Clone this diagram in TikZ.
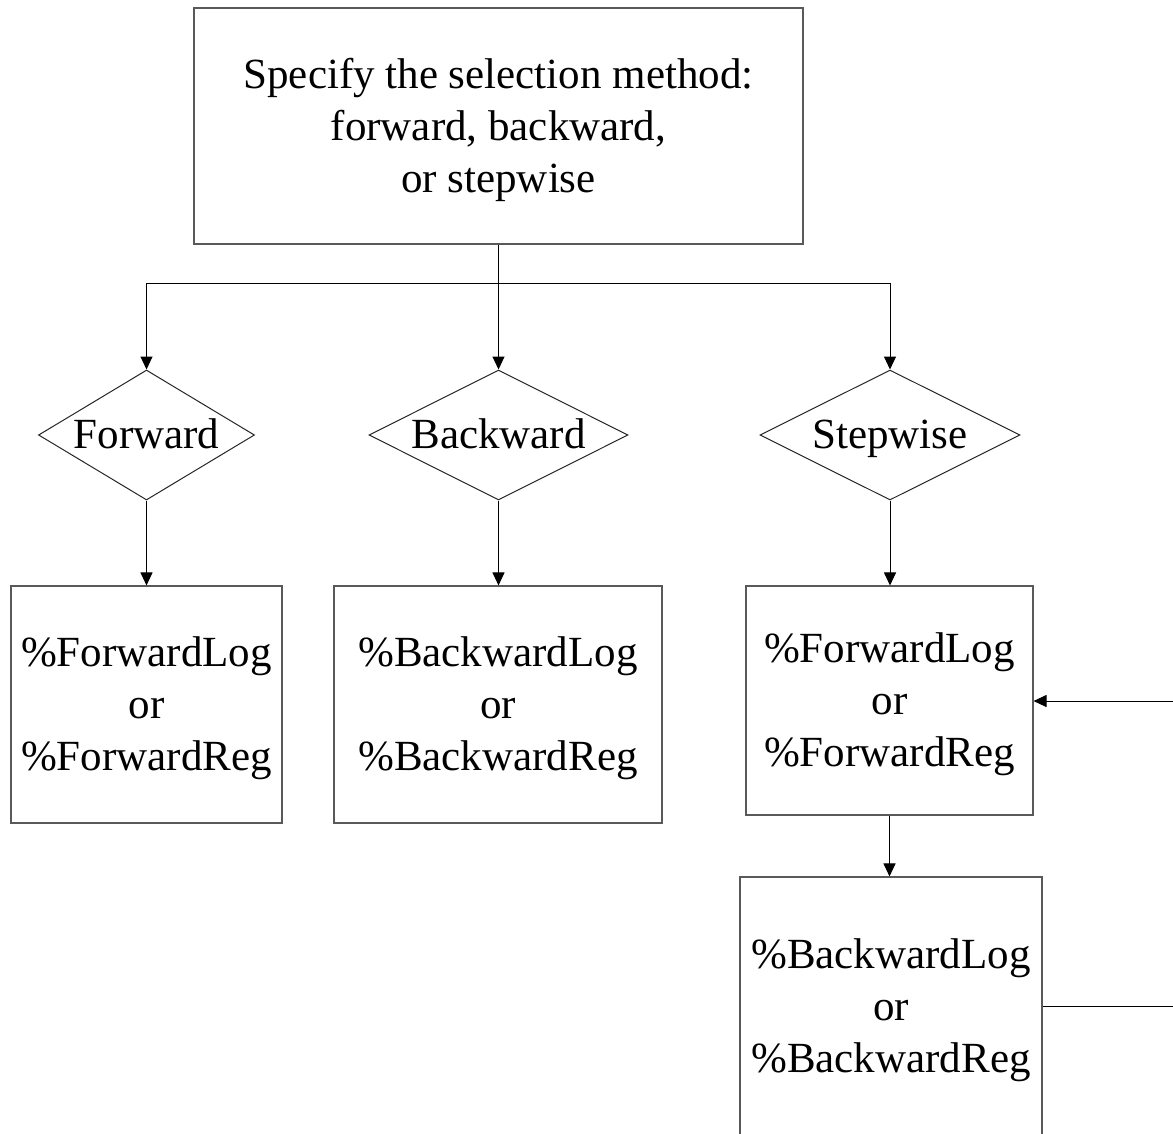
\documentclass[tikz,border=0pt]{standalone}
\usepackage{fontspec}
\setmainfont{Liberation Serif}
\usetikzlibrary{shapes.geometric,arrows.meta}
\tikzset{
  box/.style={draw=black!65, line width=1.1pt, inner sep=0pt},
  txt/.style={inner sep=0pt, align=center, yshift=-4pt, font=\fontsize{43}{52}\selectfont},
  dia/.style={draw=black!85, line width=1pt, diamond, inner sep=0pt},
  lab/.style={inner sep=0pt, text height=30pt, text depth=0pt, yshift=1.5pt, font=\fontsize{43}{52}\selectfont},
  conn/.style={draw=black, line width=1pt, -{Triangle[length=13pt,width=12pt]}},
  plain/.style={draw=black, line width=1pt}
}
\begin{document}
\begin{tikzpicture}[x=1pt,y=-1pt]
\useasboundingbox (0,0) rectangle (1173,1133);
\clip (0,0) rectangle (1173,1133);
\node[box, minimum width=609pt, minimum height=236pt] (top) at (498.5,126) {};
\node[txt] at (top) {Specify the selection method:\\forward, backward,\\or stepwise};
\coordinate (j) at (498.5,283);
\node[dia, minimum width=216pt, minimum height=130pt] (d1) at (146.5,435) {};
\node[lab] at (d1) {Forward};
\node[dia, minimum width=259pt, minimum height=130pt] (d2) at (498.5,435) {};
\node[lab] at (d2) {Backward};
\node[dia, minimum width=260pt, minimum height=130pt] (d3) at (890,435) {};
\node[lab] at (d3) {Stepwise};
\node[box, minimum width=271pt, minimum height=237pt] (b1) at (146.5,704.5) {};
\node[txt] at (b1) {\%ForwardLog\\or\\\%ForwardReg};
\node[box, minimum width=328pt, minimum height=237pt] (b2) at (498,704.5) {};
\node[txt] at (b2) {\%BackwardLog\\or\\\%BackwardReg};
\node[box, minimum width=287pt, minimum height=229pt] (b3) at (889.5,700.5) {};
\node[txt] at (b3) {\%ForwardLog\\or\\\%ForwardReg};
\node[box, minimum width=302pt, minimum height=258pt] (b4) at (891,1006) {};
\node[txt] at (b4) {\%BackwardLog\\or\\\%BackwardReg};
\coordinate (r1) at (1200,1006);
\coordinate (r2) at (1200,701);
% connectors
\draw[plain] (top.south) -- (j);
\draw[plain] (d1.north |- j) -- (d3.north |- j);
\draw[conn] (j) -- (d2.north);
\draw[conn] (d1.north |- j) -- (d1.north);
\draw[conn] (d3.north |- j) -- (d3.north);
\draw[conn] (d1.south) -- (b1.north -| d1.south);
\draw[conn] (d2.south) -- (b2.north -| d2.south);
\draw[conn] (d3.south) -- (b3.north -| d3.south);
\draw[conn] (b3.south) -- (b4.north -| b3.south);
\draw[conn] (b4.east |- r1) -- (r1) -- (r2) -- (b3.east |- r2);
\end{tikzpicture}
\end{document}
